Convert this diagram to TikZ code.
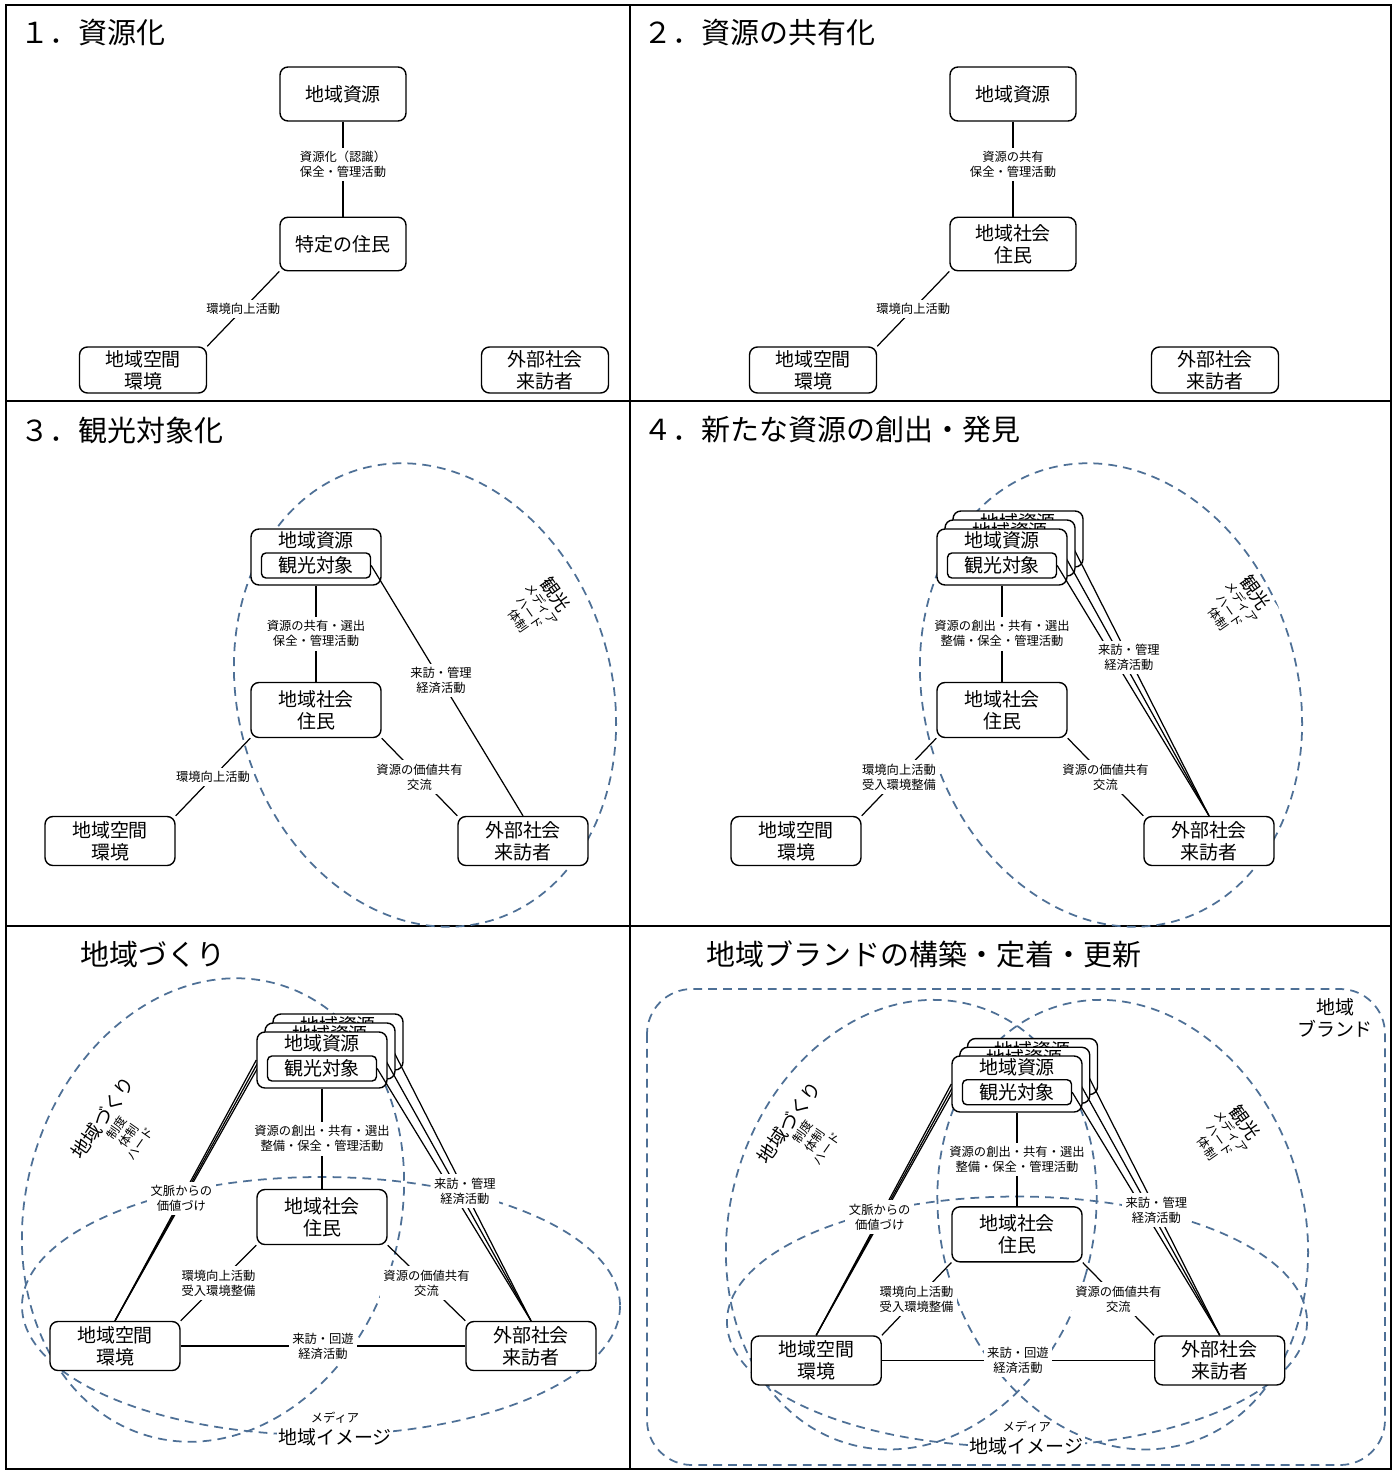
\documentclass[tikz,border=0pt]{standalone}
\usepackage{fontspec}
\setmainfont{Noto Sans CJK JP}
\usetikzlibrary{positioning}
\definecolor{zblue}{HTML}{4E7096}
\newcommand{\boxfont}{\fontsize{10.8}{12.5}\selectfont}
\newcommand{\notefont}{\fontsize{7}{8.6}\selectfont}
\newcommand{\ttlfont}{\fontsize{16.5}{20}\selectfont}
\newcommand{\tagfont}{\fontsize{7}{8.2}\selectfont}
\newcommand{\bigtag}{\fontsize{10.5}{12}\selectfont}
% hidden copies of the stack keep their inner box, not its text
\newcommand{\stacktext}[1]{\ifnum#1=0 観光対象\else\phantom{観光対象}\fi}
\tikzset{
  every picture/.style={line width=0.7pt},
  frame/.style={line width=1.3pt},
  box/.style={draw, fill=white, rounded corners=4.5pt, align=center, inner sep=1pt,
              font=\boxfont, line width=0.8pt, minimum width=2.6cm},
  inbox/.style={draw, fill=white, rounded corners=2.5pt, inner sep=0pt, font=\boxfont,
                line width=0.8pt, minimum width=2.18cm, minimum height=0.5cm},
  word/.style={font=\boxfont, inner sep=0pt},
  link/.style={draw, line width=0.7pt},
  note/.style={fill=white, font=\notefont, align=center, inner sep=2pt},
  title/.style={font=\ttlfont, anchor=west, inner sep=0pt},
  zone/.style={draw=zblue, dash pattern=on 5pt off 3.5pt, line width=1pt},
  zonetag/.style={fill=white, font=\tagfont, align=center, inner sep=1pt},
}

\begin{document}
\begin{tikzpicture}[x=0.02cm, y=-0.02cm]
  \useasboundingbox (0,0) rectangle (1393,1470);
  \draw[frame] (6,5) rectangle (1391,1469);
  \draw[frame] (630,5) -- (630,1469);
  \draw[frame] (6,401) -- (1391,401) (6,926) -- (1391,926);

  % 1. and 2.
  \foreach \p/\dx/\tx/\ttl/\who/\lab in {1/0/20/{１．資源化}/{特定の住民}/{資源化（認識）\\保全・管理活動},
                                         2/670/643/{２．資源の共有化}/{地域社会\\住民}/{資源の共有\\保全・管理活動}}
  { \node[title] (ttl\p) at (\tx,33) {\ttl};
    \node[box, minimum width=2.52cm, minimum height=1.08cm] (r\p) at (343+\dx,94) {地域資源};
    \node[box, minimum width=2.52cm, minimum height=1.07cm] (s\p) at (343+\dx,244) {\who};
    \node[box, minimum width=2.54cm, minimum height=0.92cm] (e\p) at (143+\dx,370) {地域空間\\環境};
    \node[box, minimum width=2.54cm, minimum height=0.92cm] (g\p) at (545+\dx,370) {外部社会\\来訪者};
    \draw[link] (r\p) -- node[note, pos=0.45] {\lab} (s\p);
    \draw[link] (s\p.south west) -- node[note] {環境向上活動} (e\p.north east); }

  % 3. 観光対象化
  \node[title] (ttl3) at (20,430) {３．観光対象化};
  \begin{scope}[shift={(316,557)}]
    \draw[zone, rotate around={16:(109,138)}] (109,138) ellipse (187 and 235);
    \node[box, minimum height=1.1cm] (s3) at (0,153) {地域社会\\住民};
    \node[box, minimum height=0.98cm] (e3) at (-206,284) {地域空間\\環境};
    \node[box, minimum height=0.98cm] (g3) at (207,284) {外部社会\\来訪者};
    \node[box, minimum height=1.12cm] (r3) at (0,0) {};
    \node[word] (w3) at (0,-17) {地域資源};
    \node[inbox] (t3) at (0,8.5) {観光対象};
    \draw[link] (t3.east) -- node[note, pos=0.46] {来訪・管理\\経済活動} (g3.north);
    \draw[link] (r3) -- node[note] {資源の共有・選出\\保全・管理活動} (s3);
    \draw[link] (s3.south west) -- node[note] {環境向上活動} (e3.north east);
    \draw[link] (s3.south east) -- node[note] {資源の価値共有\\交流} (g3.north west);
    \node[zonetag, rotate=-55] (k3) at (222,50) {{\bigtag 観光}\\メディア\\ハード\\体制};
  \end{scope}

  % 4. 新たな資源
  \node[title] (ttl4) at (643,430) {４．新たな資源の創出・発見};
  \begin{scope}[shift={(1002,557)}]
    \draw[zone, rotate around={16:(109,138)}] (109,138) ellipse (187 and 235);
    \node[box, minimum height=1.1cm] (s4) at (0,153) {地域社会\\住民};
    \node[box, minimum height=0.98cm] (e4) at (-206,284) {地域空間\\環境};
    \node[box, minimum height=0.98cm] (g4) at (207,284) {外部社会\\来訪者};
    \foreach \k in {2,1,0}
    { \node[box, minimum height=1.12cm] (r4\k) at (8*\k,-9*\k) {};
      \node[word] (w4\k) at (8*\k,-17-9*\k) {地域資源};
      \node[inbox] (t4\k) at (8*\k,8.5-9*\k) {\stacktext{\k}};
      \draw[link] (t4\k.east) -- coordinate[pos=0.41] (m4\k) (g4.north); }
    \draw[link] (r40) -- node[note] {資源の創出・共有・選出\\整備・保全・管理活動} (s4);
    \draw[link] (s4.south west) -- node[note] {環境向上活動\\受入環境整備} (e4.north east);
    \draw[link] (s4.south east) -- node[note] {資源の価値共有\\交流} (g4.north west);
    \node[note] (v4) at (m42) {来訪・管理\\経済活動};
    \node[zonetag, rotate=-55] (k4) at (236,48) {{\bigtag 観光}\\メディア\\ハード\\体制};
  \end{scope}

  % 地域づくり
  \node[title] (ttl5) at (80,954) {地域づくり};
  \begin{scope}[shift={(322,1060)}]
    \draw[zone, rotate around={-16:(-109,150)}] (-109,150) ellipse (187 and 235);
    \draw[zone] (-1,246) ellipse (299 and 129);
    \node[box, minimum height=1.1cm] (s5) at (0,157) {地域社会\\住民};
    \node[box, minimum height=0.98cm] (e5) at (-207,286) {地域空間\\環境};
    \node[box, minimum height=0.98cm] (g5) at (209,286) {外部社会\\来訪者};
    \foreach \k in {2,1,0}
    { \node[box, minimum height=1.12cm] (r5\k) at (8*\k,-9*\k) {};
      \node[word] (w5\k) at (8*\k,-17-9*\k) {地域資源};
      \node[inbox] (t5\k) at (8*\k,8.5-9*\k) {\stacktext{\k}};
      \draw[link] (t5\k.east) -- coordinate[pos=0.52] (m5\k) (g5.north);
      \draw[link] (r5\k.west) -- coordinate[pos=0.53] (l5\k) (e5.north); }
    \draw[link] (r50) -- node[note] {資源の創出・共有・選出\\整備・保全・管理活動} (s5);
    \draw[link] (s5.south west) -- node[note] {環境向上活動\\受入環境整備} (e5.north east);
    \draw[link] (s5.south east) -- node[note] {資源の価値共有\\交流} (g5.north west);
    \draw[link] (e5) -- node[note] {来訪・回遊\\経済活動} (g5);
    \node[note] (v5) at (m52) {来訪・管理\\経済活動};
    \node[note] (c5) at (l50) {文脈からの\\価値づけ};
    \node[zonetag, rotate=55] (k5) at (-202,70) {{\boxfont 地域づくり}\\制度\\体制\\ハード};
    \node[zonetag, font=\boxfont] (i5) at (13,377) {地域イメージ};
    \node[font=\notefont, inner sep=1pt, above=0pt of i5] (d5) {メディア};
  \end{scope}

  % 地域ブランド
  \node[title] (ttl6) at (706,954) {地域ブランドの構築・定着・更新};
  \draw[zone, rounded corners=0.9cm] (647,989) rectangle (1385,1465);
  \node[align=center, font=\boxfont, inner sep=0pt] (b6) at (1335,1018) {地域\\ブランド};
  \begin{scope}[shift={(1017,1084)}, scale=0.97]
    \draw[zone, rotate around={-16:(-109,145)}] (-109,145) ellipse (187 and 235);
    \draw[zone, rotate around={16:(109,145)}] (109,145) ellipse (187 and 235);
    \draw[zone] (0,245) ellipse (299 and 129);
    \node[box, minimum height=1.1cm] (s6) at (0,155) {地域社会\\住民};
    \node[box, minimum height=0.98cm] (e6) at (-207,285) {地域空間\\環境};
    \node[box, minimum height=0.98cm] (g6) at (209,285) {外部社会\\来訪者};
    \foreach \k in {2,1,0}
    { \node[box, minimum height=1.12cm] (r6\k) at (8*\k,-9*\k) {};
      \node[word] (w6\k) at (8*\k,-17-9*\k) {地域資源};
      \node[inbox] (t6\k) at (8*\k,8.5-9*\k) {\stacktext{\k}};
      \draw[link] (t6\k.east) -- coordinate[pos=0.52] (m6\k) (g6.north);
      \draw[link] (r6\k.west) -- coordinate[pos=0.53] (l6\k) (e6.north); }
    \draw[link] (r60) -- node[note] {資源の創出・共有・選出\\整備・保全・管理活動} (s6);
    \draw[link] (s6.south west) -- node[note] {環境向上活動\\受入環境整備} (e6.north east);
    \draw[link] (s6.south east) -- node[note] {資源の価値共有\\交流} (g6.north west);
    \draw[link] (e6) -- node[note] {来訪・回遊\\経済活動} (g6);
    \node[note] (v6) at (m62) {来訪・管理\\経済活動};
    \node[note] (c6) at (l60) {文脈からの\\価値づけ};
    \node[zonetag, rotate=55] (k6) at (-217,52) {{\boxfont 地域づくり}\\制度\\体制\\ハード};
    \node[zonetag, rotate=-55] (h6) at (217,52) {{\bigtag 観光}\\メディア\\ハード\\体制};
    \node[zonetag, font=\boxfont] (i6) at (10,373) {地域イメージ};
    \node[font=\notefont, inner sep=1pt, above=0pt of i6] (d6) {メディア};
  \end{scope}
\end{tikzpicture}
\end{document}
